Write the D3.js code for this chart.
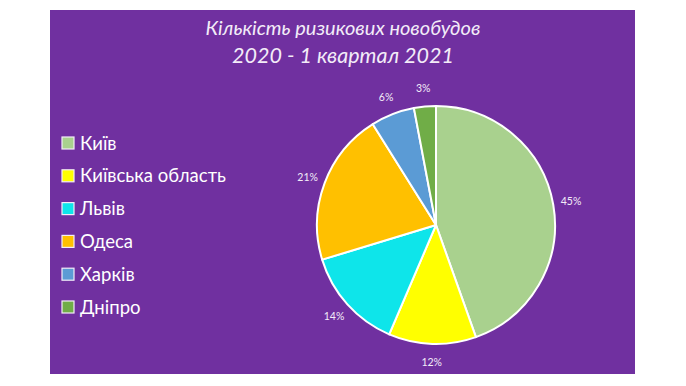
<!DOCTYPE html>
<html>
<head>
<meta charset="utf-8">
<script src="https://cdn.jsdelivr.net/npm/d3@7"></script>
<style>
  body { margin: 0; background: #ffffff; }
  text { font-family: Lato, "Open Sans", sans-serif; }
</style>
</head>
<body>
<div id="chart"></div>
<script>
// chart values
const cities = ["Київ", "Київська область", "Львів", "Одеса", "Харків", "Дніпро"];
const shares = [45, 12, 14, 21, 6, 3];
const sliceColors = ["#a9d18e", "#ffff00", "#0ee5ea", "#ffc000", "#5b9bd5", "#70ad47"];
const titleLines = ["Кількість ризикових новобудов", "2020 - 1 квартал 2021"];

const width = 686, height = 386;

const svg = d3.select("#chart").append("svg")
    .attr("width", width)
    .attr("height", height);

// purple card
svg.append("rect")
    .attr("x", 50).attr("y", 10)
    .attr("width", 585).attr("height", 364)
    .attr("fill", "#7030a0");

// title
svg.append("g").selectAll("text")
    .data(titleLines)
    .enter()
    .append("text")
        .attr("x", 343)
        .attr("y", (d, i) => i == 0 ? 35 : 63)
        .attr("text-anchor", "middle")
        .attr("font-style", "italic")
        .attr("font-size", (d, i) => i == 0 ? 20 : 21.5)
        .attr("fill", "#f3ecf8")
        .text(d => d);

// pie
const cx = 436, cy = 225, radius = 119;
const color = d3.scaleOrdinal().domain(cities).range(sliceColors);

const pie = d3.pie().sort(null).value(d => d.value);
const arcs = pie(cities.map((c, i) => ({name: c, value: shares[i]})));

const arc = d3.arc().innerRadius(0).outerRadius(radius);
const labelArc = d3.arc().innerRadius(137).outerRadius(137);

const pieG = svg.append("g")
    .attr("transform", `translate(${cx}, ${cy})`);

pieG.selectAll("path")
    .data(arcs)
    .enter()
    .append("path")
        .attr("d", arc)
        .attr("fill", d => color(d.data.name))
        .attr("stroke", "#ffffff")
        .attr("stroke-width", 2)
        .attr("stroke-linejoin", "round");

pieG.selectAll(".lbl")
    .data(arcs)
    .enter()
    .append("text")
        .attr("class", "lbl")
        .attr("transform", d => `translate(${labelArc.centroid(d)})`)
        .attr("dy", "0.35em")
        .attr("text-anchor", "middle")
        .attr("font-size", 10.5)
        .attr("fill", "#f3ecf8")
        .text(d => d.data.value + "%");

// legend
const legendY = d3.scalePoint()
    .domain(cities)
    .range([143, 307]);

const legend = svg.append("g").selectAll("g")
    .data(cities)
    .enter()
    .append("g")
        .attr("transform", d => `translate(62, ${legendY(d)})`);

legend.append("rect")
    .attr("x", 0).attr("y", -6)
    .attr("width", 12).attr("height", 12)
    .attr("fill", d => color(d))
    .attr("stroke", "#f3ecf8")
    .attr("stroke-width", 1.2);

legend.append("text")
    .attr("x", 18)
    .attr("dy", "0.36em")
    .attr("font-size", 18.5)
    .attr("fill", "#ffffff")
    .text(d => d);
</script>
</body>
</html>
